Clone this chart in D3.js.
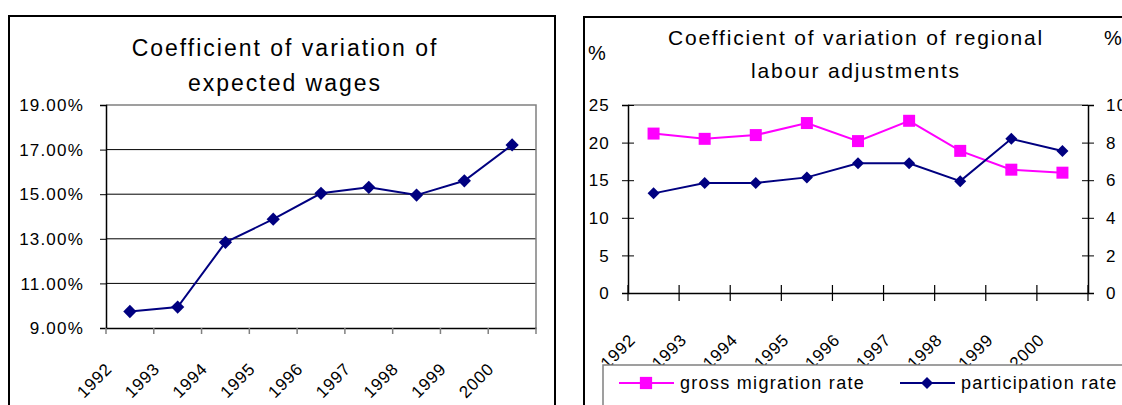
<!DOCTYPE html>
<html>
<head>
<meta charset="utf-8">
<script src="https://cdn.jsdelivr.net/npm/d3@7"></script>
<style>
html,body{margin:0;padding:0;background:#fff;}
svg{display:block;}
text{font-family:"Liberation Sans",Arial,sans-serif;fill:#000;}
</style>
</head>
<body>
<svg id="c" width="1122" height="405"></svg>
<script>
// ---------- data ----------
const years = ["1992","1993","1994","1995","1996","1997","1998","1999","2000"];
const expectedWagesCV = [9.74, 9.94, 12.84, 13.88, 15.04, 15.31, 14.96, 15.60, 17.21];
const wageTicks = [9, 11, 13, 15, 17, 19];
const grossMigration = [21.2, 20.5, 21.0, 22.6, 20.2, 22.9, 18.9, 16.4, 16.0];
const participation = [5.3, 5.85, 5.85, 6.15, 6.9, 6.9, 5.95, 8.2, 7.55];
const leftTicks = [0, 5, 10, 15, 20, 25];
const rightTicks = [0, 2, 4, 6, 8, 10];
const title1 = ["Coefficient of variation of", "expected wages"];
const title2 = ["Coefficient of variation of regional", "labour adjustments"];
const legendNames = ["gross migration rate", "participation rate"];

const NAVY = "#000080", PINK = "#FF00FF", GRAY = "#808080";
const svg = d3.select("#c");

// ---------- frames ----------
svg.append("rect").attr("x",9).attr("y",16).attr("width",546).attr("height",420)
  .attr("fill","none").attr("stroke","#000").attr("stroke-width",2);
svg.append("rect").attr("x",584).attr("y",17).attr("width",600).attr("height",420)
  .attr("fill","none").attr("stroke","#000").attr("stroke-width",2);

// ================= LEFT CHART =================
const x1 = d3.scaleBand().domain(years).range([106, 536]);
const y1 = d3.scaleLinear().domain([9, 19]).range([328, 105]);
const cx1 = d => x1(d) + x1.bandwidth()/2;

const g1 = svg.append("g");
g1.selectAll("text.t").data(title1).join("text")
  .attr("x", 285).attr("y", (d,i) => 56 + i*35)
  .attr("text-anchor","middle").style("font-size","23px").style("letter-spacing","2px")
  .text(d => d);

// gridlines
g1.selectAll("line.grid").data(wageTicks.filter(t => t>9 && t<19)).join("line")
  .attr("x1",106).attr("x2",536).attr("y1",d=>y1(d)).attr("y2",d=>y1(d))
  .attr("stroke","#000").attr("stroke-width",1);
// plot border top/right
g1.append("path").attr("d",`M106,${y1(19)}H536V${y1(9)}`).attr("fill","none")
  .attr("stroke",GRAY).attr("stroke-width",1.5);

// y axis
const ya1 = d3.axisLeft(y1).tickValues(wageTicks).tickSize(6).tickPadding(16)
  .tickFormat(d => d3.format(".2f")(d) + "%");
const yg1 = g1.append("g").attr("transform","translate(106,0)").call(ya1);
yg1.select(".domain").attr("stroke","#000").attr("stroke-width",1.5);
yg1.selectAll("line").attr("stroke","#000");
yg1.selectAll("text").style("font-size","17px").style("letter-spacing","1.2px")
  .attr("dy","0.34em").attr("fill","#000");

// x axis
const xa1 = d3.axisBottom(x1).tickSize(0).tickFormat(d=>d);
const xg1 = g1.append("g").attr("transform",`translate(0,${y1(9)})`).call(xa1);
xg1.select(".domain").attr("stroke","#000").attr("stroke-width",1.5);
xg1.selectAll(".tick text").style("font-size","17px").style("letter-spacing","0.8px")
  .attr("text-anchor","end").attr("dy",null).attr("y",0)
  .attr("transform", "translate(-17,42) rotate(-45)");
// x ticks at band edges
g1.selectAll("line.xt").data(d3.range(years.length+1)).join("line")
  .attr("x1",i=>106+i*x1.step()).attr("x2",i=>106+i*x1.step())
  .attr("y1",y1(9)).attr("y2",y1(9)+6).attr("stroke",GRAY).attr("stroke-width",1.5);

// line + markers
g1.append("path").datum(expectedWagesCV)
  .attr("d", d3.line().x((d,i)=>cx1(years[i])).y(d=>y1(d)))
  .attr("fill","none").attr("stroke",NAVY).attr("stroke-width",2);
g1.selectAll("path.m").data(expectedWagesCV).join("path")
  .attr("d", d3.symbol(d3.symbolSquare, 88)())
  .attr("transform",(d,i)=>`translate(${cx1(years[i])},${y1(d)}) rotate(45)`)
  .attr("fill",NAVY);

// ================= RIGHT CHART =================
const x2 = d3.scaleBand().domain(years).range([628, 1088]);
const yL = d3.scaleLinear().domain([0, 25]).range([293, 105]);
const yR = d3.scaleLinear().domain([0, 10]).range([293, 105]);
const cx2 = d => x2(d) + x2.bandwidth()/2;

const g2 = svg.append("g");
g2.selectAll("text.t").data(title2).join("text")
  .attr("x", 856).attr("y", (d,i) => 45 + i*33)
  .attr("text-anchor","middle").style("font-size","21px").style("letter-spacing","1.8px")
  .text(d => d);
g2.append("text").attr("x",588).attr("y",60).style("font-size","20px").text("%");
g2.append("text").attr("x",1104).attr("y",45).style("font-size","20px").text("%");

// top border
g2.append("line").attr("x1",628).attr("x2",1088).attr("y1",105).attr("y2",105)
  .attr("stroke",GRAY).attr("stroke-width",1.5);

// left axis
const yaL = d3.axisLeft(yL).tickValues(leftTicks).tickSize(6).tickPadding(12);
const ygL = g2.append("g").attr("transform","translate(628,0)").call(yaL);
ygL.select(".domain").attr("stroke","#000").attr("stroke-width",1.5);
ygL.selectAll(".tick line").attr("x2",-6).attr("x1",6).attr("stroke","#000");
ygL.selectAll("text").style("font-size","17px").style("letter-spacing","1.2px").attr("dy","0.34em");

// right axis
const yaR = d3.axisRight(yR).tickValues(rightTicks).tickSize(6).tickPadding(12);
const ygR = g2.append("g").attr("transform","translate(1088,0)").call(yaR);
ygR.select(".domain").attr("stroke","#000").attr("stroke-width",1.5);
ygR.selectAll(".tick line").attr("x1",-6).attr("x2",6).attr("stroke","#000");
ygR.selectAll("text").style("font-size","17px").style("letter-spacing","1.2px").attr("dy","0.34em");

// x axis
const xa2 = d3.axisBottom(x2).tickSize(0).tickFormat(d=>d);
const xg2 = g2.append("g").attr("transform","translate(0,293)").call(xa2);
xg2.select(".domain").attr("stroke","#000").attr("stroke-width",1.5);
xg2.selectAll(".tick text").style("font-size","17px").style("letter-spacing","0.8px")
  .attr("text-anchor","end").attr("dy",null).attr("y",0)
  .attr("transform","translate(-17,48) rotate(-45)");
g2.selectAll("line.xt").data(d3.range(years.length+1)).join("line")
  .attr("x1",i=>628+i*x2.step()).attr("x2",i=>628+i*x2.step())
  .attr("y1",285).attr("y2",301).attr("stroke","#000").attr("stroke-width",1.2);

// gross migration (left axis)
g2.append("path").datum(grossMigration)
  .attr("d", d3.line().x((d,i)=>cx2(years[i])).y(d=>yL(d)))
  .attr("fill","none").attr("stroke",PINK).attr("stroke-width",2);
g2.selectAll("path.sq").data(grossMigration).join("path")
  .attr("d", d3.symbol(d3.symbolSquare, 144)())
  .attr("transform",(d,i)=>`translate(${cx2(years[i])},${yL(d)})`)
  .attr("fill",PINK);

// participation (right axis)
g2.append("path").datum(participation)
  .attr("d", d3.line().x((d,i)=>cx2(years[i])).y(d=>yR(d)))
  .attr("fill","none").attr("stroke",NAVY).attr("stroke-width",2);
g2.selectAll("path.dm").data(participation).join("path")
  .attr("d", d3.symbol(d3.symbolSquare, 72)())
  .attr("transform",(d,i)=>`translate(${cx2(years[i])},${yR(d)}) rotate(45)`)
  .attr("fill",NAVY);

// legend
const lg = svg.append("g");
lg.append("rect").attr("x",603).attr("y",365).attr("width",540).attr("height",60)
  .attr("fill","#fff").attr("stroke",GRAY).attr("stroke-width",1.5);
const items = [
  {name: legendNames[0], color: PINK, sym: "sq", x0: 619},
  {name: legendNames[1], color: NAVY, sym: "dm", x0: 900}
];
items.forEach(it => {
  lg.append("line").attr("x1",it.x0).attr("x2",it.x0+55).attr("y1",383).attr("y2",383)
    .attr("stroke",it.color).attr("stroke-width",2);
  lg.append("path")
    .attr("d", d3.symbol(d3.symbolSquare, it.sym==="sq"?150:72)())
    .attr("transform", `translate(${it.x0+27},383)` + (it.sym==="dm"?" rotate(45)":""))
    .attr("fill", it.color);
  lg.append("text").attr("x", it.x0+61).attr("y",389)
    .style("font-size","18px").style("letter-spacing","1.3px").text(it.name);
});
</script>
</body>
</html>
